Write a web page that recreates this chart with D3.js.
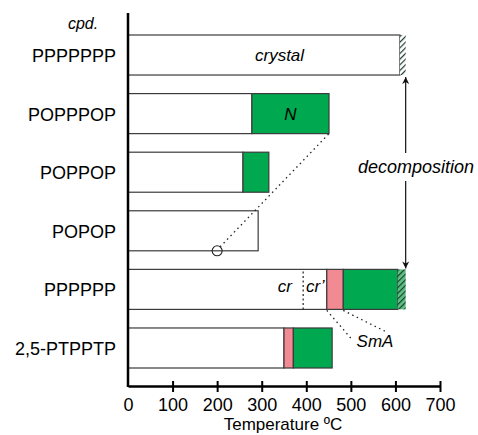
<!DOCTYPE html>
<html>
<head>
<meta charset="utf-8">
<script src="https://cdn.jsdelivr.net/npm/d3@7"></script>
<style>
  body { margin: 0; background: #fff; }
  text { font-family: "Liberation Sans", Arial, sans-serif; fill: #000; }
</style>
</head>
<body>
<script>
// phase diagram data (temperatures in deg C)
var compounds   = ["PPPPPPP", "POPPPOP", "POPPOP", "POPOP", "PPPPPP", "2,5-PTPPTP"];
var crystalEnd  = [610, 278, 258, 292, 446, 350];
var smecticEnd  = [null, null, null, null, 483, 371];
var nematicEnd  = [null, 451, 316, null, 605, 458];
var decompEnd   = [623, null, null, null, 623, null];
var crTransition = 393;   // cr -> cr' in PPPPPP
var glassPoint = 200;     // open circle on POPOP
var xTicks = [0, 100, 200, 300, 400, 500, 600, 700];

var colors = { cr: "#ffffff", SmA: "#f28a93", N: "#00a84f" };

var W = 478, H = 435;
var svg = d3.select("body").append("svg").attr("width", W).attr("height", H);

var x = d3.scaleLinear().domain([0, 700]).range([128, 440]);
var y = d3.scaleBand().domain(compounds).range([35, 368]).paddingInner(0.317);

// hatch patterns for decomposition
var defs = svg.append("defs");
function hatch(id, bg) {
  var p = defs.append("pattern").attr("id", id).attr("patternUnits", "userSpaceOnUse")
    .attr("width", 4).attr("height", 4).attr("patternTransform", "rotate(45)");
  p.append("rect").attr("width", 4).attr("height", 4).attr("fill", bg);
  p.append("line").attr("x1", 0).attr("y1", 0).attr("x2", 0).attr("y2", 4)
    .attr("stroke", "#1e3a30").attr("stroke-width", 2.4);
}
hatch("hatchW", "#ffffff");
hatch("hatchG", "#5cc284");

// build segments per compound
var segs = [];
compounds.forEach(function (c, i) {
  var start = 0;
  segs.push({ c: c, from: 0, to: crystalEnd[i], fill: colors.cr, kind: "cr" });
  start = crystalEnd[i];
  if (smecticEnd[i] != null) {
    segs.push({ c: c, from: start, to: smecticEnd[i], fill: colors.SmA, kind: "SmA" });
    start = smecticEnd[i];
  }
  if (nematicEnd[i] != null) {
    segs.push({ c: c, from: start, to: nematicEnd[i], fill: colors.N, kind: "N" });
    start = nematicEnd[i];
  }
  if (decompEnd[i] != null) {
    segs.push({ c: c, from: start, to: decompEnd[i],
      fill: nematicEnd[i] != null ? "url(#hatchG)" : "url(#hatchW)", kind: "dec" });
  }
});

svg.append("g").selectAll("rect").data(segs).enter().append("rect")
  .attr("x", function (d) { return x(d.from); })
  .attr("y", function (d) { return y(d.c); })
  .attr("width", function (d) { return x(d.to) - x(d.from); })
  .attr("height", y.bandwidth())
  .attr("fill", function (d) { return d.fill; })
  .attr("stroke", function (d) { return d.kind == "dec" ? "none" : "#3b3b3b"; })
  .attr("stroke-width", 1.2);

// cr / cr' dotted divider
var rowP6 = y("PPPPPP");
svg.append("line")
  .attr("x1", x(crTransition)).attr("x2", x(crTransition))
  .attr("y1", rowP6 + 2).attr("y2", rowP6 + y.bandwidth())
  .attr("stroke", "#222").attr("stroke-width", 1.2).attr("stroke-dasharray", "2,2.5");

// dotted leader from circle to POPPPOP N end
var rowPOPOP = y("POPOP");
var cx = x(glassPoint), cy = rowPOPOP + y.bandwidth();
svg.append("line")
  .attr("x1", cx + 3).attr("y1", cy - 4)
  .attr("x2", x(nematicEnd[1])).attr("y2", y("POPPPOP") + y.bandwidth())
  .attr("stroke", "#222").attr("stroke-width", 1.3).attr("stroke-dasharray", "1.5,3.5");
svg.append("circle").attr("cx", cx).attr("cy", cy).attr("r", 5)
  .attr("fill", "none").attr("stroke", "#222").attr("stroke-width", 1.1);

// SmA leaders
var smBottom = rowP6 + y.bandwidth();
svg.append("line")
  .attr("x1", x(crystalEnd[4])).attr("y1", smBottom + 1)
  .attr("x2", x(crystalEnd[4]) + 26).attr("y2", smBottom + 31)
  .attr("stroke", "#222").attr("stroke-width", 1.3).attr("stroke-dasharray", "1.5,3.5");
svg.append("line")
  .attr("x1", x(smecticEnd[4])).attr("y1", smBottom + 1)
  .attr("x2", x(smecticEnd[4]) + 44).attr("y2", smBottom + 23)
  .attr("stroke", "#222").attr("stroke-width", 1.3).attr("stroke-dasharray", "1.5,3.5");

// decomposition arrow
var ax = x(decompEnd[0]);
defs.append("marker").attr("id", "arr").attr("viewBox", "0 0 10 10")
  .attr("refX", 10).attr("refY", 5).attr("markerWidth", 7).attr("markerHeight", 9)
  .attr("orient", "auto-start-reverse").attr("markerUnits", "userSpaceOnUse")
  .append("path").attr("d", "M0,0 L10,5 L0,10 L3,5 Z").attr("fill", "#111");
var aTop = y("PPPPPPP") + y.bandwidth() + 2;
var aBot = y("PPPPPP") - 1;
svg.append("line").attr("x1", ax).attr("x2", ax).attr("y1", aTop).attr("y2", 153)
  .attr("stroke", "#111").attr("stroke-width", 1.2).attr("marker-start", "url(#arr)");
svg.append("line").attr("x1", ax).attr("x2", ax).attr("y1", 181).attr("y2", aBot)
  .attr("stroke", "#111").attr("stroke-width", 1.2).attr("marker-end", "url(#arr)");
svg.append("text").attr("x", 416).attr("y", 173).attr("text-anchor", "middle")
  .style("font-size", "18px").style("font-style", "italic").text("decomposition");

// in-bar labels
svg.append("text").attr("x", x(340)).attr("y", y("PPPPPPP") + y.bandwidth() / 2 + 6)
  .attr("text-anchor", "middle").style("font-size", "17px").style("font-style", "italic").text("crystal");
svg.append("text").attr("x", x((crystalEnd[1] + nematicEnd[1]) / 2)).attr("y", y("POPPPOP") + y.bandwidth() / 2 + 6)
  .attr("text-anchor", "middle").style("font-size", "17px").style("font-style", "italic").text("N");
svg.append("text").attr("x", x(352)).attr("y", rowP6 + 23)
  .attr("text-anchor", "middle").style("font-size", "17px").style("font-style", "italic").text("cr");
svg.append("text").attr("x", x(420)).attr("y", rowP6 + 23)
  .attr("text-anchor", "middle").style("font-size", "17px").style("font-style", "italic").text("cr\u2019");
svg.append("text").attr("x", 375).attr("y", smBottom + 38)
  .attr("text-anchor", "middle").style("font-size", "17px").style("font-style", "italic").text("SmA");

// y labels
svg.append("g").selectAll("text").data(compounds).enter().append("text")
  .attr("x", 116).attr("y", function (d) { return y(d) + y.bandwidth() / 2 + 7; })
  .attr("text-anchor", "end").style("font-size", "18px").text(function (d) { return d; });
svg.append("text").attr("x", 83).attr("y", 29).attr("text-anchor", "middle")
  .style("font-size", "16px").style("font-style", "italic").text("cpd.");

// axes
var axisY = 386;
var xAxis = svg.append("g").attr("transform", "translate(0," + axisY + ")")
  .call(d3.axisBottom(x).tickValues(xTicks).tickSizeInner(6).tickSizeOuter(0).tickPadding(6));
xAxis.select(".domain").attr("stroke", "#000").attr("stroke-width", 2.5);
xAxis.selectAll(".tick line").attr("y1", -5).attr("stroke", "#000").attr("stroke-width", 2);
xAxis.selectAll(".tick").filter(function (d) { return d === 0; }).select("line").remove();
xAxis.selectAll(".tick text").style("font-size", "18px")
  .style("font-family", "'Liberation Sans', Arial, sans-serif").attr("fill", "#000");

svg.append("line").attr("x1", x(0)).attr("x2", x(0)).attr("y1", 13).attr("y2", axisY + 1)
  .attr("stroke", "#000").attr("stroke-width", 2.5);

svg.append("text").attr("x", 283).attr("y", 430).attr("text-anchor", "middle")
  .style("font-size", "17px").text("Temperature \u00baC");
</script>
</body>
</html>
